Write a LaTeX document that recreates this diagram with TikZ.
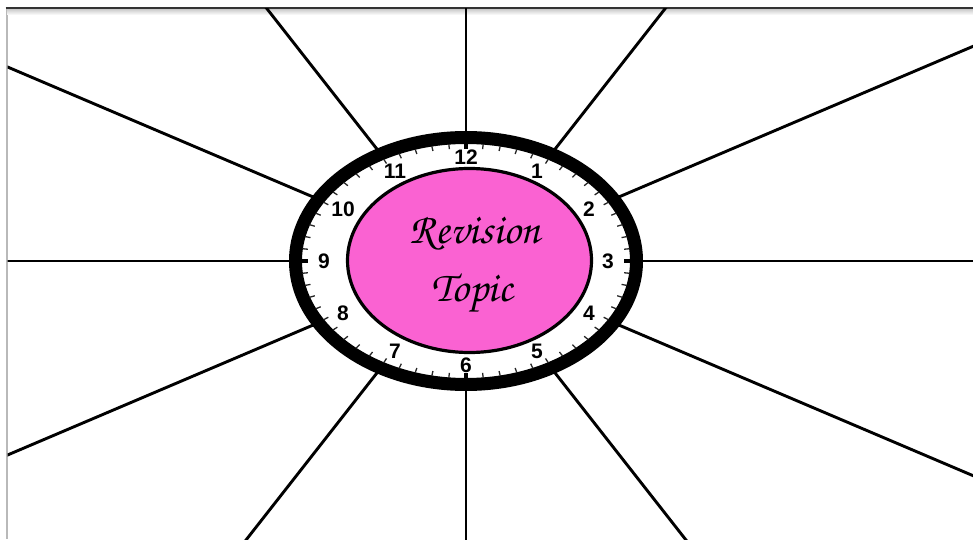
\documentclass[tikz,border=0pt]{standalone}
\usepackage[T1]{fontenc}
\usepackage{fontspec}
\usetikzlibrary{positioning,calc,shapes.geometric}
\newfontfamily\numfont{Liberation Sans}
\newcommand{\topicfont}{\fontencoding{T1}\fontfamily{pzc}\fontseries{mb}\fontshape{it}\selectfont}
\definecolor{topicpink}{RGB}{250,98,210}
\tikzset{
    spoke/.style={line width=2.9pt, black},
    hourlabel/.style={font=\numfont\bfseries\fontsize{21}{21}\selectfont, inner sep=0pt},
    minutetick/.style={line width=1.3pt, black!85},
    topictext/.style={font=\topicfont\fontsize{43}{43}\selectfont, inner sep=0pt},
}

\begin{document}
\begin{tikzpicture}[x=1pt,y=1pt]

        \useasboundingbox (0,0) rectangle (973,539);

        % Frame with its shadow
        \fill[gray!55] (5.5,0) rectangle (7.5,531);
        \shade[top color=gray!45, bottom color=white] (7,524) rectangle (973,530.5);
        \draw[line width=1.6pt, black!80] (5.5,531) -- (973,531);

        \coordinate (c) at (466,278);

        % Spokes, clipped to the frame
        \begin{scope}
            \clip (7.5,0) rectangle (973,530);
            \foreach \t in {0,30,...,330}
            {
                \coordinate (s\t) at ($(c)+({171*cos(\t)},{124*sin(\t)})$);
                \coordinate (e\t) at ($(c)+({177*5*cos(\t)},{130*5*sin(\t)})$);
                \draw[spoke] (s\t) -- (e\t);
            }
        \end{scope}

        % Clock face and rim
        \draw[line width=13pt, fill=white] (c) ellipse [x radius=170.5, y radius=123.5];

        % Minute ticks
        \foreach \m in {0,6,...,354}
        {
            \draw[minutetick] ($(c)+({164.5*cos(\m)},{117.5*sin(\m)})$) -- ($(c)+({159*cos(\m)},{112.5*sin(\m)})$);
        }
        \foreach \m in {0,90,180,270}
        {
            \draw[line width=3.4pt] ($(c)+({165*cos(\m)},{118*sin(\m)})$) -- ($(c)+({158*cos(\m)},{111.5*sin(\m)})$);
        }

        % Hour numbers
        \foreach \h in {1,...,12}
        {
            \node[hourlabel] (h\h) at ($(c)+({142*cos(90-30*\h)},{104*sin(90-30*\h)})$) {\h};
        }

        % Centre
        \node[draw, line width=3.2pt, fill=topicpink, ellipse, minimum width=244pt, minimum height=184pt, inner sep=0pt] (topic) at (469.5,278.5) {};
        \node[topictext] (rev) at (475,306) {Revision};
        \node[topictext] (top) at (472,245) {Topic};

    \end{tikzpicture}
\end{document}
